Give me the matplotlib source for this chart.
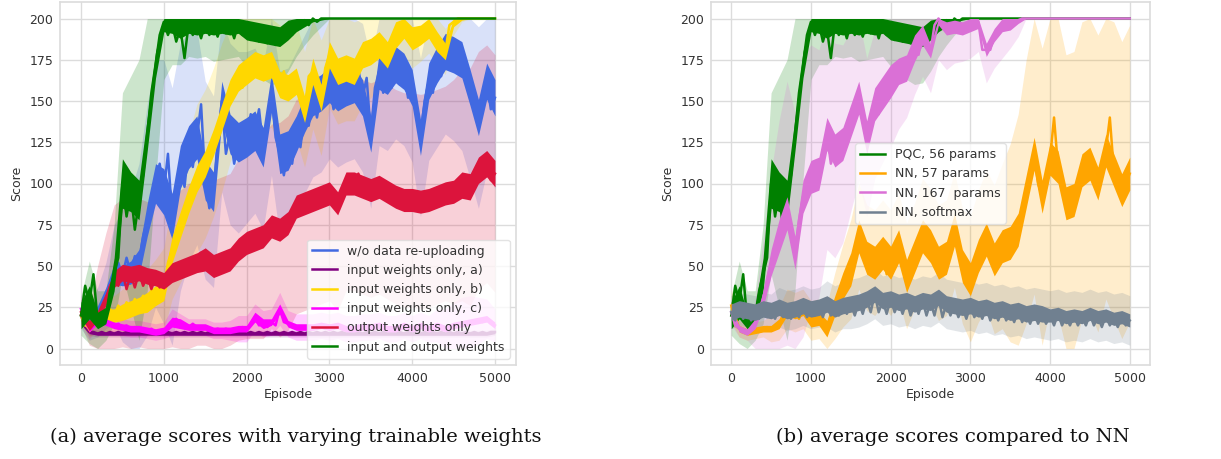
import numpy as np
import matplotlib
matplotlib.use("Agg")
import matplotlib.pyplot as plt

# ---------------- data ----------------
episodes = np.arange(0, 5001, 50)        # mean curves, every 50 episodes
band_episodes = np.arange(0, 5001, 100)  # spread bands, every 100 episodes

green = [20, 38, 28, 45, 17, 22, 20, 35, 45, 55,
         100, 80, 95, 72, 90, 105, 130, 155, 172, 190,
         198, 190, 197, 186, 194, 176, 197, 190, 196, 188,
         197, 190, 196, 189, 197, 191, 196, 188, 197, 190,
         193, 187, 192, 186, 191, 185, 190, 184, 189, 186,
         193, 190, 197, 194, 199, 196, 200, 198, 200, 200,
         200, 200, 200, 200, 200, 200, 200, 200, 200, 200,
         200, 200, 200, 200, 200, 200, 200, 200, 200, 200,
         200, 200, 200, 200, 200, 200, 200, 200, 200, 200,
         200, 200, 200, 200, 200, 200, 200, 200, 200, 200,
         200]
blue = [20, 17, 15, 18, 22, 25, 32, 36, 45, 52,
        44, 55, 46, 56, 52, 68, 78, 92, 100, 112,
        95, 118, 80, 95, 110, 98, 122, 110, 128, 148,
        102, 85, 95, 125, 150, 118, 130, 112, 125, 135,
        128, 142, 132, 145, 122, 136, 155, 128, 118, 105,
        120, 112, 130, 122, 142, 135, 152, 140, 155, 148,
        160, 145, 155, 162, 158, 168, 160, 170, 152, 164,
        130, 158, 168, 155, 165, 158, 172, 160, 168, 152,
        158, 145, 128, 150, 162, 155, 172, 165, 180, 172,
        178, 170, 175, 165, 158, 150, 140, 155, 162, 145,
        152]
yellow = [20, 14, 13, 16, 18, 22, 20, 24, 20, 26,
          22, 28, 24, 30, 26, 32, 28, 35, 32, 38,
          36, 52, 60, 64, 75, 78, 90, 92, 103, 104,
          112, 116, 125, 126, 140, 142, 155, 156, 164, 158,
          168, 165, 172, 166, 170, 165, 172, 166, 160, 168,
          158, 165, 162, 158, 145, 165, 168, 162, 152, 170,
          178, 172, 168, 175, 170, 165, 168, 172, 178, 182,
          180, 186, 184, 180, 178, 185, 190, 192, 196, 190,
          188, 192, 190, 196, 194, 190, 186, 180, 180, 196,
          198, 200, 200, 200, 200, 200, 200, 200, 200, 200,
          200]
red = [22, 16, 14, 16, 20, 24, 30, 38, 42, 38,
       46, 36, 45, 37, 46, 38, 44, 36, 43, 37,
       41, 44, 46, 50, 48, 52, 50, 55, 52, 58,
       54, 56, 50, 54, 52, 56, 54, 58, 60, 62,
       64, 62, 66, 70, 68, 72, 74, 68, 72, 70,
       76, 80, 86, 82, 88, 84, 90, 88, 92, 88,
       94, 90, 88, 95, 100, 104, 100, 106, 98, 102,
       96, 100, 98, 102, 95, 98, 92, 95, 90, 94,
       90, 92, 89, 92, 90, 94, 92, 96, 94, 98,
       95, 97, 99, 102, 98, 104, 108, 104, 112, 102,
       106]
magenta = [24, 16, 12, 14, 17, 19, 16, 15, 14, 15,
           13, 14, 12, 13, 12, 12, 11, 12, 10, 11,
           11, 13, 16, 18, 15, 14, 13, 15, 13, 12,
           13, 12, 11, 12, 11, 12, 11, 12, 12, 13,
           12, 15, 19, 14, 15, 13, 16, 14, 24, 16,
           15, 14, 13, 12, 13, 12, 13, 12, 14, 12,
           13, 12, 14, 13, 12, 13, 12, 14, 13, 12,
           13, 12, 14, 13, 12, 13, 12, 13, 14, 13,
           12, 13, 14, 13, 12, 13, 14, 13, 12, 13,
           14, 13, 15, 14, 16, 15, 17, 16, 18, 15,
           14]
purple = [20, 13, 10, 10, 9, 10, 9, 10, 9, 10,
          9, 10, 9, 10, 9, 10, 9, 10, 9, 10,
          9, 10, 9, 10, 9, 10, 9, 10, 9, 10,
          9, 10, 9, 10, 9, 10, 9, 10, 9, 10,
          9, 10, 9, 10, 9, 10, 9, 10, 9, 10,
          9, 10, 9, 10, 9, 10, 9, 10, 9, 10,
          9, 10, 9, 10, 9, 10, 9, 10, 9, 10,
          9, 10, 9, 10, 9, 10, 9, 10, 9, 10,
          9, 10, 9, 10, 9, 10, 9, 10, 9, 10,
          9, 10, 9, 10, 9, 10, 9, 10, 9, 10,
          10]
orange = [26, 14, 12, 11, 10, 10, 11, 10, 12, 13,
          12, 14, 15, 18, 24, 20, 22, 18, 24, 20,
          17, 20, 18, 16, 12, 20, 26, 30, 38, 42,
          48, 55, 68, 60, 55, 48, 52, 62, 58, 45,
          52, 58, 62, 50, 44, 52, 56, 62, 68, 58,
          62, 54, 52, 60, 55, 62, 72, 58, 50, 45,
          42, 50, 56, 60, 66, 58, 54, 58, 62, 60,
          64, 68, 72, 82, 95, 108, 118, 100, 92, 98,
          115, 140, 110, 102, 88, 80, 90, 96, 108, 104,
          112, 106, 100, 110, 120, 140, 108, 98, 96, 100,
          106]
violet = [22, 14, 12, 11, 10, 12, 15, 22, 30, 42,
          52, 60, 68, 72, 82, 70, 58, 78, 92, 98,
          104, 110, 106, 118, 130, 112, 120, 116, 124, 130,
          138, 145, 152, 142, 128, 140, 148, 142, 155, 158,
          162, 160, 168, 172, 170, 176, 182, 178, 190, 185,
          180, 196, 200, 197, 194, 192, 195, 192, 194, 193,
          196, 195, 198, 181, 181, 181, 190, 192, 196, 194,
          197, 196, 199, 200, 200, 200, 200, 200, 200, 200,
          200, 200, 200, 200, 200, 200, 200, 200, 200, 200,
          200, 200, 200, 200, 200, 200, 200, 200, 200, 200,
          200]
gray = [22, 17, 24, 18, 23, 17, 22, 18, 24, 19,
        23, 18, 25, 19, 23, 18, 24, 19, 26, 19,
        24, 20, 25, 19, 27, 20, 24, 20, 26, 21,
        27, 20, 28, 21, 30, 22, 33, 22, 29, 21,
        30, 22, 28, 21, 29, 20, 27, 21, 29, 20,
        28, 20, 31, 19, 27, 20, 26, 19, 25, 18,
        26, 19, 24, 18, 25, 17, 23, 17, 24, 17,
        22, 16, 23, 16, 21, 15, 22, 15, 21, 15,
        20, 14, 21, 14, 19, 14, 20, 14, 19, 14,
        21, 14, 19, 13, 20, 14, 18, 13, 19, 14,
        17]

# spread (std) of each series over runs, every 100 episodes
green_sd = [12, 25, 18, 15, 30, 55, 70, 85, 95, 70,
            35, 25, 22, 20, 20, 20, 22, 22, 20, 20,
            22, 25, 28, 30, 28, 25, 20, 15, 10, 5,
            0, 0, 0, 0, 0, 0, 0, 0, 0, 0,
            0, 0, 0, 0, 0, 0, 0, 0, 0, 0,
            0]
blue_sd = [8, 10, 15, 20, 30, 40, 50, 60, 70, 75,
           80, 78, 75, 70, 65, 60, 58, 55, 55, 55,
           52, 50, 50, 50, 50, 50, 50, 48, 48, 48,
           45, 45, 45, 45, 45, 45, 45, 45, 45, 45,
           45, 48, 48, 50, 50, 52, 55, 55, 55, 55,
           55]
yellow_sd = [5, 6, 8, 10, 12, 14, 16, 18, 20, 22,
             25, 30, 35, 40, 45, 45, 45, 45, 42, 40,
             40, 40, 38, 38, 36, 36, 35, 35, 35, 35,
             32, 32, 32, 30, 30, 28, 25, 22, 20, 18,
             18, 16, 15, 14, 14, 8, 2, 0, 0, 0,
             0]
red_sd = [8, 12, 30, 40, 45, 45, 45, 45, 45, 45,
          45, 45, 48, 50, 50, 52, 52, 52, 52, 55,
          58, 60, 62, 62, 65, 65, 65, 65, 65, 65,
          65, 65, 65, 65, 65, 65, 65, 65, 65, 65,
          65, 65, 65, 65, 65, 68, 70, 72, 72, 72,
          72]
magenta_sd = [8, 6, 6, 5, 5, 5, 5, 5, 5, 5,
              5, 8, 6, 5, 5, 5, 5, 5, 6, 8,
              8, 8, 8, 8, 10, 8, 8, 8, 8, 8,
              8, 8, 8, 8, 8, 8, 8, 8, 8, 8,
              8, 8, 8, 10, 12, 14, 16, 16, 14, 12,
              10]
purple_sd = [5, 2, 2, 2, 2, 2, 2, 2, 2, 2,
             2, 2, 2, 2, 2, 2, 2, 2, 2, 2,
             2, 2, 2, 2, 2, 2, 2, 2, 2, 2,
             2, 2, 2, 2, 2, 2, 2, 2, 2, 2,
             2, 2, 2, 2, 2, 2, 2, 2, 2, 2,
             2]
orange_sd = [10, 5, 5, 5, 5, 8, 10, 12, 12, 12,
             12, 12, 15, 20, 25, 30, 32, 32, 32, 32,
             32, 32, 32, 32, 35, 35, 35, 35, 35, 35,
             38, 40, 42, 45, 50, 60, 70, 80, 85, 90,
             90, 90, 90, 90, 90, 90, 90, 90, 90, 90,
             90]
violet_sd = [8, 5, 5, 15, 35, 55, 70, 80, 85, 85,
             80, 75, 70, 65, 60, 55, 50, 48, 45, 42,
             40, 35, 30, 28, 25, 25, 25, 25, 22, 20,
             20, 18, 20, 20, 20, 15, 10, 0, 0, 0,
             0, 0, 0, 0, 0, 0, 0, 0, 0, 0,
             0]
gray_sd = [10, 10, 10, 10, 10, 10, 12, 12, 12, 12,
           12, 12, 14, 14, 14, 15, 15, 15, 15, 15,
           15, 15, 15, 15, 15, 15, 15, 15, 15, 15,
           15, 15, 15, 15, 15, 15, 15, 15, 15, 15,
           15, 15, 15, 15, 15, 15, 15, 15, 15, 15,
           15]

# half-width of the dense episode-to-episode jitter of each mean curve, every 100 episodes
green_jit = [8, 10, 5, 5, 10, 15, 12, 12, 10, 8,
             6, 6, 6, 6, 6, 6, 6, 6, 6, 6,
             6, 6, 6, 6, 6, 6, 5, 4, 2, 1,
             0, 0, 0, 0, 0, 0, 0, 0, 0, 0,
             0, 0, 0, 0, 0, 0, 0, 0, 0, 0,
             0]
blue_jit = [3, 3, 4, 5, 6, 6, 7, 8, 10, 12,
            14, 14, 13, 13, 13, 12, 12, 12, 12, 12,
            12, 12, 12, 12, 12, 12, 11, 11, 11, 11,
            11, 11, 11, 11, 11, 11, 11, 11, 11, 11,
            11, 11, 11, 11, 11, 11, 11, 11, 11, 11,
            11]
yellow_jit = [3, 3, 3, 4, 4, 5, 5, 5, 6, 6,
              7, 8, 8, 8, 8, 8, 8, 8, 8, 8,
              8, 8, 8, 8, 8, 8, 8, 8, 8, 8,
              8, 8, 8, 8, 8, 8, 8, 8, 8, 8,
              7, 6, 6, 6, 5, 3, 1, 0, 0, 0,
              0]
red_jit = [3, 3, 3, 4, 5, 5, 5, 5, 5, 5,
           5, 6, 6, 6, 6, 7, 7, 7, 7, 7,
           7, 7, 7, 7, 7, 7, 7, 7, 7, 7,
           7, 7, 7, 7, 7, 7, 7, 7, 7, 7,
           7, 7, 7, 7, 7, 7, 8, 8, 8, 8,
           8]
magenta_jit = [3, 2, 2, 2, 2, 2, 2, 2, 2, 2,
               2, 3, 3, 2, 2, 2, 2, 2, 2, 2,
               2, 3, 3, 2, 3, 2, 2, 2, 2, 2,
               2, 2, 2, 2, 2, 2, 2, 2, 2, 2,
               2, 2, 2, 2, 2, 2, 2, 2, 2, 2,
               2]
purple_jit = [2, 1, 1, 1, 1, 1, 1, 1, 1, 1,
              1, 1, 1, 1, 1, 1, 1, 1, 1, 1,
              1, 1, 1, 1, 1, 1, 1, 1, 1, 1,
              1, 1, 1, 1, 1, 1, 1, 1, 1, 1,
              1, 1, 1, 1, 1, 1, 1, 1, 1, 1,
              1]
orange_jit = [2, 2, 2, 2, 2, 2, 3, 4, 4, 4,
              4, 4, 5, 6, 8, 10, 10, 10, 10, 10,
              10, 10, 10, 10, 10, 10, 10, 10, 10, 10,
              10, 10, 10, 10, 10, 10, 10, 10, 10, 10,
              10, 10, 10, 10, 10, 10, 10, 10, 10, 10,
              10]
violet_jit = [2, 2, 2, 3, 5, 8, 10, 10, 10, 10,
              10, 10, 10, 10, 10, 10, 10, 10, 10, 10,
              10, 8, 8, 8, 6, 4, 4, 4, 4, 4,
              4, 4, 4, 4, 4, 4, 2, 0, 0, 0,
              0, 0, 0, 0, 0, 0, 0, 0, 0, 0,
              0]
gray_jit = [5, 5, 5, 5, 5, 5, 5, 5, 5, 5,
            5, 5, 5, 5, 5, 5, 5, 5, 5, 5,
            5, 5, 5, 5, 5, 5, 5, 5, 5, 5,
            5, 5, 5, 5, 5, 5, 5, 5, 5, 5,
            4, 4, 4, 4, 4, 4, 4, 4, 4, 4,
            4]

left_series = [
    ("w/o data re-uploading", blue, blue_sd, blue_jit, "royalblue"),
    ("input weights only, a)", purple, purple_sd, purple_jit, "purple"),
    ("input weights only, b)", yellow, yellow_sd, yellow_jit, "gold"),
    ("input weights only, c)", magenta, magenta_sd, magenta_jit, "magenta"),
    ("output weights only", red, red_sd, red_jit, "crimson"),
    ("input and output weights", green, green_sd, green_jit, "green"),
]
right_series = [
    ("PQC, 56 params", green, green_sd, green_jit, "green"),
    ("NN, 57 params", orange, orange_sd, orange_jit, "orange"),
    ("NN, 167  params", violet, violet_sd, violet_jit, "orchid"),
    ("NN, softmax", gray, gray_sd, gray_jit, "slategray"),
]
captions = ["(a) average scores with varying trainable weights",
            "(b) average scores compared to NN"]
xticks = [0, 1000, 2000, 3000, 4000, 5000]
yticks = [0, 25, 50, 75, 100, 125, 150, 175, 200]

# ---------------- drawing ----------------
plt.rcParams['font.family'] = ['DejaVu Sans']
fig = plt.figure(figsize=(12.21, 4.59), dpi=100)
ax1 = fig.add_axes([60/1221, 1-365/459, (516-60)/1221, (365-2)/459])
ax2 = fig.add_axes([711/1221, 1-365/459, (1150-711)/1221, (365-2)/459])

txt = '#333333'
grid_c = '#dcdcdc'


def draw(ax, series, legend_loc):
    # spread bands first (all behind the curves)
    for label, mean, sd, jit, color in series:
        mb = np.asarray(mean, float)[::2]
        s = np.asarray(sd, float)
        ax.fill_between(band_episodes, np.clip(mb - s, 0, 200), np.clip(mb + s, 0, 200),
                        color=color, alpha=0.2, linewidth=0, zorder=1)
    handles = []
    for k, (label, mean, sd, jit, color) in enumerate(series):
        m = np.asarray(mean, float)
        mb = m[::2]
        j = np.asarray(jit, float)
        ax.fill_between(band_episodes, np.clip(mb - j, 0, 200), np.clip(mb + j, 0, 200),
                        color=color, alpha=1.0, linewidth=0, zorder=2 + k)
        h, = ax.plot(episodes, m, color=color, lw=1.8, label=label, zorder=2 + k)
        handles.append(h)
    ax.set_xlim(-254, 5254)
    ax.set_ylim(-10, 210)
    ax.set_xticks(xticks)
    ax.set_yticks(yticks)
    ax.grid(True, color=grid_c, lw=1)
    ax.set_axisbelow(True)
    for sp in ax.spines.values():
        sp.set_color(grid_c)
        sp.set_linewidth(1.2)
    ax.tick_params(length=0, labelsize=9, colors=txt, pad=5)
    ax.set_xlabel("Episode", fontsize=9, color=txt, labelpad=2)
    ax.set_ylabel("Score", fontsize=9, color=txt, labelpad=4)
    leg = ax.legend(handles=handles, loc=legend_loc, fontsize=9,
                    framealpha=0.8, edgecolor=grid_c, fancybox=True)
    leg.set_zorder(20)
    for t in leg.get_texts():
        t.set_color(txt)


draw(ax1, left_series, 'lower right')
draw(ax2, right_series, 'center')

fig.text(296/1221, 1-437/459, captions[0], ha='center', va='center',
         fontsize=14, family='DejaVu Serif', color='#111111')
fig.text(953/1221, 1-437/459, captions[1], ha='center', va='center',
         fontsize=14, family='DejaVu Serif', color='#111111')

fig.savefig("out.png", dpi=100)
